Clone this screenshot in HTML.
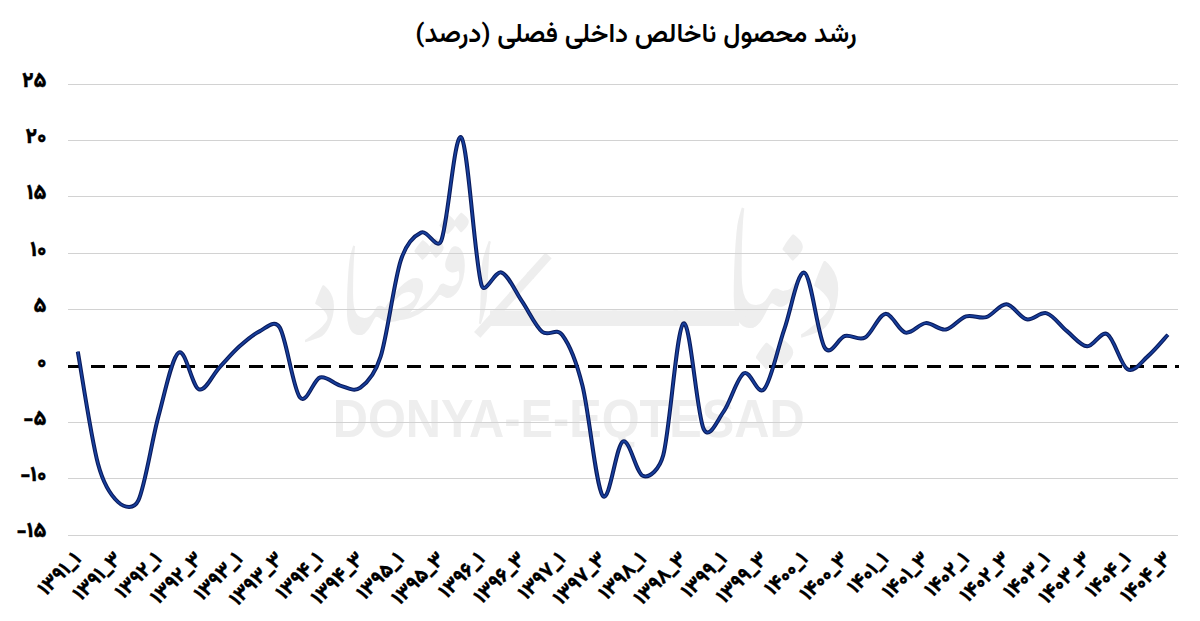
<!DOCTYPE html>
<html><head><meta charset="utf-8"><style>
html,body{margin:0;padding:0;background:#fff;}
svg{display:block;}
.t{font-family:'Vazirmatn','DejaVu Sans',sans-serif;font-weight:900;}
</style></head><body>
<svg width="1200" height="621" viewBox="0 0 1200 621">
<rect width="1200" height="621" fill="#fff"/>
<g fill="#eeeeee">
<text transform="translate(568.7,436.5) scale(0.911,1)" font-size="53.5" text-anchor="middle" style="font-family:'Liberation Sans',Arial,sans-serif;font-weight:700">DONYA-E-EQTESAD</text>
<text transform="translate(404.3,334.5) scale(0.833,1)" font-size="108.4" text-anchor="middle" style="font-family:'Noto Nastaliq Urdu','Noto Naskh Arabic',serif">اقتصاد</text>
<text transform="translate(516,298) rotate(-48)" font-size="95" text-anchor="middle" style="font-family:'Vazirmatn','DejaVu Sans',sans-serif">ــــ</text>
<text transform="translate(780.3,327.6) scale(0.793,1)" font-size="145.9" text-anchor="middle" style="font-family:'Noto Nastaliq Urdu','Noto Naskh Arabic',serif">دنیا</text>
<text transform="translate(614.5,326) scale(1.267,1)" font-size="175" text-anchor="middle" style="font-family:'Vazirmatn','DejaVu Sans',sans-serif">ــــ</text>
</g>
<line x1="68" y1="84.5" x2="1178" y2="84.5" stroke="#d2d2d2" stroke-width="1" shape-rendering="crispEdges"/><line x1="68" y1="140.5" x2="1178" y2="140.5" stroke="#d2d2d2" stroke-width="1" shape-rendering="crispEdges"/><line x1="68" y1="196.5" x2="1178" y2="196.5" stroke="#d2d2d2" stroke-width="1" shape-rendering="crispEdges"/><line x1="68" y1="253.5" x2="1178" y2="253.5" stroke="#d2d2d2" stroke-width="1" shape-rendering="crispEdges"/><line x1="68" y1="309.5" x2="1178" y2="309.5" stroke="#d2d2d2" stroke-width="1" shape-rendering="crispEdges"/><line x1="68" y1="422.5" x2="1178" y2="422.5" stroke="#d2d2d2" stroke-width="1" shape-rendering="crispEdges"/><line x1="68" y1="478.5" x2="1178" y2="478.5" stroke="#d2d2d2" stroke-width="1" shape-rendering="crispEdges"/><line x1="68" y1="535.5" x2="1178" y2="535.5" stroke="#d2d2d2" stroke-width="1" shape-rendering="crispEdges"/>
<line x1="68" y1="366.5" x2="1178.5" y2="366.5" stroke="#000" stroke-width="3" stroke-dasharray="14 8.6" shape-rendering="crispEdges"/>
<path d="M77.79,351.65 C81.16,370.34 91.25,438.72 97.98,463.80 C103.59,484.72 111.44,496.02 118.17,502.13 C124.90,508.23 134.06,509.61 138.36,500.44 C145.08,486.06 151.81,440.54 158.54,415.90 C165.27,391.25 172.00,356.98 178.73,352.55 C185.46,348.11 192.19,386.76 198.92,389.29 C205.65,391.83 212.38,374.89 219.10,367.77 C225.83,360.65 232.56,352.64 239.29,346.57 C246.02,340.51 252.75,334.55 259.48,331.36 C266.21,328.16 274.30,318.64 279.67,327.41 C286.40,338.40 293.12,388.96 299.85,397.30 C306.58,405.64 313.31,379.41 320.04,377.46 C326.77,375.51 333.50,383.87 340.23,385.58 C346.96,387.28 353.69,392.53 360.42,387.72 C367.14,382.91 375.01,374.35 380.60,356.72 C387.33,335.49 394.06,281.03 400.79,260.34 C406.10,244.03 414.25,235.85 420.98,232.61 C427.71,229.38 436.90,251.01 441.16,240.96 C447.89,225.10 454.62,130.11 461.35,137.48 C468.08,144.84 474.81,262.64 481.54,285.14 C484.95,296.55 495.00,269.85 501.73,272.52 C508.46,275.18 515.18,291.28 521.91,301.15 C528.64,311.01 535.37,326.06 542.10,331.69 C548.83,337.33 556.16,326.78 562.29,334.96 C569.02,343.96 575.83,359.21 582.48,385.69 C589.20,412.50 595.93,486.52 602.66,495.82 C609.39,505.11 616.12,444.79 622.85,441.48 C629.58,438.18 636.31,473.67 643.04,475.98 C649.77,478.29 659.53,469.30 663.22,455.35 C669.95,429.93 676.68,327.88 683.41,323.47 C690.14,319.05 696.87,414.21 703.60,428.86 C709.17,440.99 717.06,420.65 723.79,411.39 C730.52,402.13 737.24,376.99 743.97,373.29 C750.70,369.59 757.43,396.55 764.16,389.18 C770.89,381.82 777.62,348.51 784.35,329.10 C791.08,309.70 797.81,269.64 804.54,272.74 C811.26,275.84 817.99,337.16 824.72,347.70 C831.00,357.54 838.18,337.67 844.91,335.98 C851.64,334.29 858.37,341.24 865.10,337.56 C871.83,333.87 878.56,314.71 885.28,313.89 C892.01,313.06 898.74,331.06 905.47,332.60 C912.20,334.14 918.93,323.64 925.66,323.13 C932.39,322.62 939.12,330.68 945.85,329.55 C952.58,328.43 959.30,318.43 966.03,316.37 C972.76,314.30 979.49,319.16 986.22,317.15 C992.95,315.14 999.68,303.95 1006.41,304.30 C1013.14,304.66 1019.87,317.79 1026.60,319.30 C1033.32,320.80 1040.05,311.35 1046.78,313.32 C1053.51,315.29 1060.24,325.63 1066.97,331.13 C1073.70,336.64 1080.43,345.84 1087.16,346.35 C1093.89,346.86 1100.62,330.36 1107.34,334.17 C1114.07,337.99 1120.80,365.53 1127.53,369.23 C1134.26,372.93 1140.99,362.13 1147.72,356.38 C1154.45,350.63 1164.54,338.35 1167.91,334.74" fill="none" stroke="#0a1b5c" stroke-width="4.0" stroke-linejoin="round" stroke-linecap="butt"/>
<path d="M77.79,351.65 C81.16,370.34 91.25,438.72 97.98,463.80 C103.59,484.72 111.44,496.02 118.17,502.13 C124.90,508.23 134.06,509.61 138.36,500.44 C145.08,486.06 151.81,440.54 158.54,415.90 C165.27,391.25 172.00,356.98 178.73,352.55 C185.46,348.11 192.19,386.76 198.92,389.29 C205.65,391.83 212.38,374.89 219.10,367.77 C225.83,360.65 232.56,352.64 239.29,346.57 C246.02,340.51 252.75,334.55 259.48,331.36 C266.21,328.16 274.30,318.64 279.67,327.41 C286.40,338.40 293.12,388.96 299.85,397.30 C306.58,405.64 313.31,379.41 320.04,377.46 C326.77,375.51 333.50,383.87 340.23,385.58 C346.96,387.28 353.69,392.53 360.42,387.72 C367.14,382.91 375.01,374.35 380.60,356.72 C387.33,335.49 394.06,281.03 400.79,260.34 C406.10,244.03 414.25,235.85 420.98,232.61 C427.71,229.38 436.90,251.01 441.16,240.96 C447.89,225.10 454.62,130.11 461.35,137.48 C468.08,144.84 474.81,262.64 481.54,285.14 C484.95,296.55 495.00,269.85 501.73,272.52 C508.46,275.18 515.18,291.28 521.91,301.15 C528.64,311.01 535.37,326.06 542.10,331.69 C548.83,337.33 556.16,326.78 562.29,334.96 C569.02,343.96 575.83,359.21 582.48,385.69 C589.20,412.50 595.93,486.52 602.66,495.82 C609.39,505.11 616.12,444.79 622.85,441.48 C629.58,438.18 636.31,473.67 643.04,475.98 C649.77,478.29 659.53,469.30 663.22,455.35 C669.95,429.93 676.68,327.88 683.41,323.47 C690.14,319.05 696.87,414.21 703.60,428.86 C709.17,440.99 717.06,420.65 723.79,411.39 C730.52,402.13 737.24,376.99 743.97,373.29 C750.70,369.59 757.43,396.55 764.16,389.18 C770.89,381.82 777.62,348.51 784.35,329.10 C791.08,309.70 797.81,269.64 804.54,272.74 C811.26,275.84 817.99,337.16 824.72,347.70 C831.00,357.54 838.18,337.67 844.91,335.98 C851.64,334.29 858.37,341.24 865.10,337.56 C871.83,333.87 878.56,314.71 885.28,313.89 C892.01,313.06 898.74,331.06 905.47,332.60 C912.20,334.14 918.93,323.64 925.66,323.13 C932.39,322.62 939.12,330.68 945.85,329.55 C952.58,328.43 959.30,318.43 966.03,316.37 C972.76,314.30 979.49,319.16 986.22,317.15 C992.95,315.14 999.68,303.95 1006.41,304.30 C1013.14,304.66 1019.87,317.79 1026.60,319.30 C1033.32,320.80 1040.05,311.35 1046.78,313.32 C1053.51,315.29 1060.24,325.63 1066.97,331.13 C1073.70,336.64 1080.43,345.84 1087.16,346.35 C1093.89,346.86 1100.62,330.36 1107.34,334.17 C1114.07,337.99 1120.80,365.53 1127.53,369.23 C1134.26,372.93 1140.99,362.13 1147.72,356.38 C1154.45,350.63 1164.54,338.35 1167.91,334.74" fill="none" stroke="#173f9c" stroke-width="1.8" stroke-linejoin="round" stroke-linecap="butt"/>
<g class="t" fill="#000" stroke="#000" stroke-width="0.3" direction="ltr">
<g font-size="21"><text x="46.5" y="86.5" text-anchor="end">۲۵</text><text x="46.5" y="142.9" text-anchor="end">۲۰</text><text x="46.5" y="199.2" text-anchor="end">۱۵</text><text x="46.5" y="255.6" text-anchor="end">۱۰</text><text x="46.5" y="311.9" text-anchor="end">۵</text><text x="46.5" y="368.3" text-anchor="end">۰</text><text x="46.5" y="424.7" text-anchor="end">-۵</text><text x="46.5" y="481.0" text-anchor="end">-۱۰</text><text x="46.5" y="537.4" text-anchor="end">-۱۵</text></g>
<g font-size="20.5"><text transform="translate(82.3,560.0) rotate(-45) scale(0.97,1)" text-anchor="end">۱۳۹۱_۱</text><text transform="translate(122.7,560.0) rotate(-45) scale(0.97,1)" text-anchor="end">۱۳۹۱_۳</text><text transform="translate(163.0,560.0) rotate(-45) scale(0.97,1)" text-anchor="end">۱۳۹۲_۱</text><text transform="translate(203.4,560.0) rotate(-45) scale(0.97,1)" text-anchor="end">۱۳۹۲_۳</text><text transform="translate(243.8,560.0) rotate(-45) scale(0.97,1)" text-anchor="end">۱۳۹۳_۱</text><text transform="translate(284.2,560.0) rotate(-45) scale(0.97,1)" text-anchor="end">۱۳۹۳_۳</text><text transform="translate(324.5,560.0) rotate(-45) scale(0.97,1)" text-anchor="end">۱۳۹۴_۱</text><text transform="translate(364.9,560.0) rotate(-45) scale(0.97,1)" text-anchor="end">۱۳۹۴_۳</text><text transform="translate(405.3,560.0) rotate(-45) scale(0.97,1)" text-anchor="end">۱۳۹۵_۱</text><text transform="translate(445.7,560.0) rotate(-45) scale(0.97,1)" text-anchor="end">۱۳۹۵_۳</text><text transform="translate(486.0,560.0) rotate(-45) scale(0.97,1)" text-anchor="end">۱۳۹۶_۱</text><text transform="translate(526.4,560.0) rotate(-45) scale(0.97,1)" text-anchor="end">۱۳۹۶_۳</text><text transform="translate(566.8,560.0) rotate(-45) scale(0.97,1)" text-anchor="end">۱۳۹۷_۱</text><text transform="translate(607.2,560.0) rotate(-45) scale(0.97,1)" text-anchor="end">۱۳۹۷_۳</text><text transform="translate(647.5,560.0) rotate(-45) scale(0.97,1)" text-anchor="end">۱۳۹۸_۱</text><text transform="translate(687.9,560.0) rotate(-45) scale(0.97,1)" text-anchor="end">۱۳۹۸_۳</text><text transform="translate(728.3,560.0) rotate(-45) scale(0.97,1)" text-anchor="end">۱۳۹۹_۱</text><text transform="translate(768.7,560.0) rotate(-45) scale(0.97,1)" text-anchor="end">۱۳۹۹_۳</text><text transform="translate(809.0,560.0) rotate(-45) scale(0.97,1)" text-anchor="end">۱۴۰۰_۱</text><text transform="translate(849.4,560.0) rotate(-45) scale(0.97,1)" text-anchor="end">۱۴۰۰_۳</text><text transform="translate(889.8,560.0) rotate(-45) scale(0.97,1)" text-anchor="end">۱۴۰۱_۱</text><text transform="translate(930.2,560.0) rotate(-45) scale(0.97,1)" text-anchor="end">۱۴۰۱_۳</text><text transform="translate(970.5,560.0) rotate(-45) scale(0.97,1)" text-anchor="end">۱۴۰۲_۱</text><text transform="translate(1010.9,560.0) rotate(-45) scale(0.97,1)" text-anchor="end">۱۴۰۲_۳</text><text transform="translate(1051.3,560.0) rotate(-45) scale(0.97,1)" text-anchor="end">۱۴۰۳_۱</text><text transform="translate(1091.7,560.0) rotate(-45) scale(0.97,1)" text-anchor="end">۱۴۰۳_۳</text><text transform="translate(1132.0,560.0) rotate(-45) scale(0.97,1)" text-anchor="end">۱۴۰۴_۱</text><text transform="translate(1172.4,560.0) rotate(-45) scale(0.97,1)" text-anchor="end">۱۴۰۴_۳</text></g>
</g>
<text class="t" style="font-weight:600" x="636" y="41.6" font-size="26.4" text-anchor="middle" direction="rtl" fill="#000">رشد محصول ناخالص داخلی فصلی (درصد)</text>
</svg>
</body></html>
